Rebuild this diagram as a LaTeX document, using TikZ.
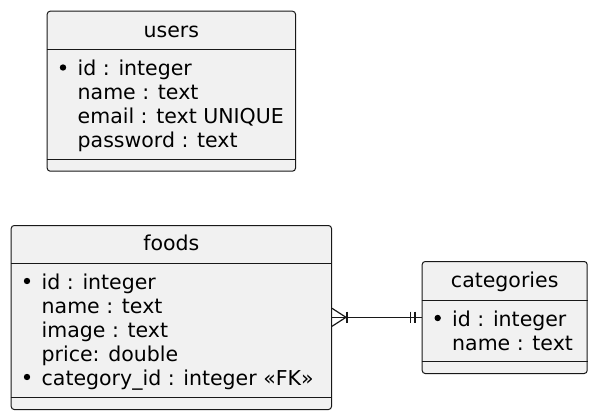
\documentclass[tikz,border=0pt]{standalone}
\usepackage{fontspec}
\setmainfont{DejaVu Sans}
\usetikzlibrary{calc}
\definecolor{erfill}{HTML}{F1F1F1}
\definecolor{erline}{HTML}{181818}

\tikzset{
  entity/.style={draw=erline, fill=erfill, line width=1pt, rounded corners=3pt, inner sep=0pt, anchor=north west},
  etitle/.style={anchor=base, inner sep=0pt, font=\fontsize{20.5}{24}\selectfont},
  field/.style={anchor=base west, inner sep=0pt, font=\fontsize{20.5}{24}\selectfont},
  sepline/.style={draw=erline, line width=1pt},
  relline/.style={draw=erline, line width=1.2pt},
}

\begin{document}
\begin{tikzpicture}[x=1pt, y=-1pt]
    \useasboundingbox (0,0) rectangle (595,418);

    % users table
    \node[entity, minimum width=248.3pt, minimum height=160pt] (users) at (46.7,10.7) {};
    \node[etitle] (users-title) at (users.north |- 0,37.7) {users};
    \draw[sepline] (users.west |- 0,49.3) -- (users.east |- 0,49.3);
    \foreach \txt [count=\i] in {id : integer, name : text, email : text UNIQUE, password : text} {
        \node[field] (users-f\i) at (77.5,51.5+24*\i) {\txt};
    }
    \fill[black] (63,67.5) circle (3.2pt);
    \draw[sepline] (users.west |- 0,159.3) -- (users.east |- 0,159.3);

    % foods table
    \node[entity, minimum width=320.3pt, minimum height=184pt] (foods) at (10.7,225) {};
    \node[etitle] (foods-title) at (foods.north |- 0,250.7) {foods};
    \draw[sepline] (foods.west |- 0,263.3) -- (foods.east |- 0,263.3);
    \foreach \txt [count=\i] in {id : integer, name : text, image : text, price: double, category\_id : integer «FK»} {
        \node[field] (foods-f\i) at (41.5,265+24*\i) {\txt};
    }
    \foreach \i in {1,5} {
        \fill[black] (27,257+24*\i) circle (3.2pt);
    }
    \draw[sepline] (foods.west |- 0,397.7) -- (foods.east |- 0,397.7);

    % categories table
    \node[entity, minimum width=165pt, minimum height=112pt] (categories) at (421.7,261) {};
    \node[etitle] (categories-title) at (categories.north |- 0,287.7) {categories};
    \draw[sepline] (categories.west |- 0,300) -- (categories.east |- 0,300);
    \foreach \txt [count=\i] in {id : integer, name : text} {
        \node[field] (categories-f\i) at (452,302.7+24*\i) {\txt};
    }
    \fill[black] (437.7,318) circle (3.2pt);
    \draw[sepline] (categories.west |- 0,361.7) -- (categories.east |- 0,361.7);

    % relation foods }|--|| categories
    \coordinate (fk-start) at (foods.east |- 0,317.3);
    \coordinate (fk-end) at (categories.west |- 0,317.3);
    \draw[relline] (fk-start) -- (fk-end);
    \draw[relline] ($(fk-start)+(0,-9)$) -- ($(fk-start)+(14,0)$) -- ($(fk-start)+(0,9)$);
    \draw[relline] ($(fk-start)+(15,-5.8)$) -- ++(0,11.6);
    \draw[relline] ($(fk-end)+(-11,-5.8)$) -- ++(0,11.6);
    \draw[relline] ($(fk-end)+(-6.7,-5.8)$) -- ++(0,11.6);
\end{tikzpicture}
\end{document}
